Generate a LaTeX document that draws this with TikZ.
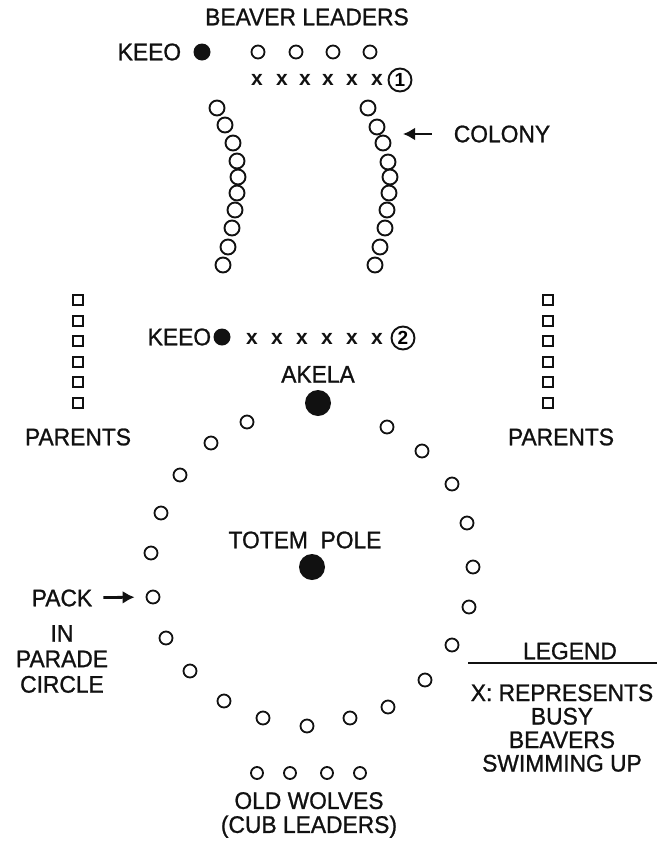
\documentclass[tikz,border=0pt]{standalone}
\usepackage{fontspec}
\setmainfont{Liberation Sans}
\newfontfamily\labelfont{Liberation Sans}[FakeStretch=0.95,FakeBold=1]
\usetikzlibrary{arrows.meta,positioning}
\definecolor{ink}{HTML}{111111}
\tikzset{>={Latex[length=12pt,width=13pt]},lbl/.style={font=\labelfont\fontsize{24}{27}\selectfont,text=ink,inner sep=0pt},bead/.style={circle,draw=ink,line width=1.9pt,fill=white,minimum size=15pt,inner sep=0pt},scout/.style={circle,draw=ink,line width=1.8pt,minimum size=13pt,inner sep=0pt},leader/.style={circle,fill=ink,minimum size=17pt,inner sep=0pt},parent/.style={rectangle,draw=ink,line width=1.9pt,minimum size=10pt,inner sep=0pt},busy/.style={font=\bfseries\fontsize{21}{21}\selectfont,text=ink,inner sep=0pt},tag/.style={circle,draw=ink,line width=1.9pt,minimum size=23pt,inner sep=0pt,font=\bfseries\fontsize{19}{19}\selectfont},arr/.style={->,line width=2.8pt,ink}}

\begin{document}
\begin{tikzpicture}[x=1pt,y=-1pt]
\useasboundingbox (0,0) rectangle (670,844);
% beaver leaders and first keeo
\node[lbl] (bleaders) at (307,17) {BEAVER LEADERS};
\node[leader] (keeoa) at (202,52) {};
\node[lbl,left=12pt of keeoa] (keeoatxt) {KEEO};
\foreach \x [count=\i] in {258,296,333,370} \node[scout] (bl\i) at (\x,52) {};
\foreach \x [count=\i] in {257,282,305,328,352,377} \node[busy] (xa\i) at (\x,80) {x};
\node[tag] (one) at (400,80) {1};
% colony
\foreach \p [count=\i] in {(217,108),(225,125),(233,143),(237,161),(238,177),(237,193),(235,210),(232,228),(228,247),(223,265)} \node[bead] (cl\i) at \p {};
\foreach \p [count=\i] in {(368,108),(377,127),(383,143),(388,162),(390,177),(389,193),(387,210),(385,228),(380,247),(375,265)} \node[bead] (cr\i) at \p {};
\node[lbl] (colony) at (502,134) {COLONY};
\coordinate (colonytip) at (403,134);
\draw[arr,shorten <=22pt] (colony.west) -- (colonytip);
% parents
\foreach \i in {0,...,5} {\node[parent] (pl\i) at (78,{300+20.6*\i}) {};\node[parent] (pr\i) at (548,{300+20.6*\i}) {};}
\node[lbl] (parentsl) at (78,437) {PARENTS};
\node[lbl] (parentsr) at (561,437) {PARENTS};
% second keeo
\node[leader] (keeob) at (222,337) {};
\node[lbl,left=2pt of keeob] (keeobtxt) {KEEO};
\foreach \x [count=\i] in {252,277,302,327,352,377} \node[busy] (xb\i) at (\x,339) {x};
\node[tag] (two) at (403,338) {2};
% akela and totem pole
\node[leader,minimum size=26pt] (akela) at (318,403) {};
\node[lbl,above=7pt of akela] (akelatxt) {AKELA};
\node[leader,minimum size=26pt] (totem) at (312,567) {};
\node[lbl] (totemtxt) at (305,540) {TOTEM~~POLE};
% parade circle
\foreach \p [count=\i] in {(247,422),(211,443),(180,475),(161,513),(151,553),(153,597),(166,638),(190,671),(224,701),(263,718),(307,726),(350,718),(388,707),(425,680),(452,645),(469,607),(473,567),(467,523),(452,484),(422,451),(387,427)} \node[scout] (r\i) at \p {};
\node[lbl] (pack) at (62,598) {PACK};
\node[lbl,align=center,font=\labelfont\fontsize{24}{25.5}\selectfont] (parade) at (62,659) {IN\\PARADE\\CIRCLE};
\draw[arr,shorten <=11pt,shorten >=11pt] (pack) -- (r6);
% old wolves
\foreach \x [count=\i] in {257,290,327,360} \node[scout,minimum size=12pt] (ow\i) at (\x,773) {};
\node[lbl,align=center,font=\labelfont\fontsize{24}{24}\selectfont] (oldwolves) at (309,815) {OLD WOLVES\\(CUB LEADERS)};
% legend
\node[lbl] (legend) at (570,651) {LEGEND};
\coordinate (rulel) at (468,663);
\coordinate (ruler) at (657,663);
\draw[line width=1.5pt,ink] (rulel) -- (ruler);
\node[lbl,align=center,font=\labelfont\fontsize{24}{23.5}\selectfont] (key) at (562,728) {X: REPRESENTS\\BUSY\\BEAVERS\\SWIMMING UP};
\end{tikzpicture}
\end{document}
